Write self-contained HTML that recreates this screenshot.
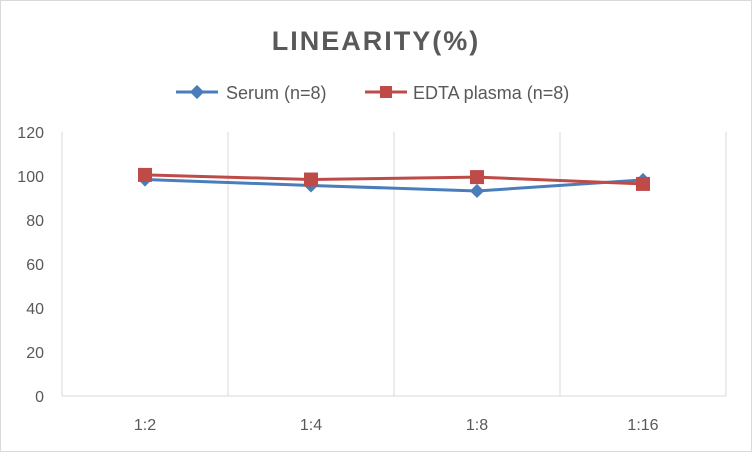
<!DOCTYPE html>
<html><head><meta charset="utf-8"><style>
body{margin:0;background:#fff;font-family:"Liberation Sans",sans-serif}
</style></head><body>
<svg width="752" height="452" xmlns="http://www.w3.org/2000/svg">
<rect x="0.5" y="0.5" width="751" height="451" fill="#fff" stroke="#d9d9d9"/>
<text x="376" y="50" text-anchor="middle" font-size="27" font-weight="bold" fill="#595959" letter-spacing="2">LINEARITY(%)</text>
<g>
<g>
<line x1="176" y1="92" x2="218" y2="92" stroke="#4a7ebb" stroke-width="3"/>
<rect x="192" y="87" width="10" height="10" fill="#4a7ebb" transform="rotate(45 197 92)"/>
<text x="226" y="99" font-size="18" fill="#595959">Serum (n=8)</text>
</g>
<g>
<line x1="365" y1="92" x2="407" y2="92" stroke="#be4b48" stroke-width="3"/>
<rect x="380" y="86" width="12" height="12" fill="#be4b48"/>
<text x="413" y="99" font-size="18" fill="#595959">EDTA plasma (n=8)</text>
</g>
</g>
<g id="grid"></g>
<g id="yt"></g>
<g id="xt"></g>
<g id="series"></g>
</svg>
<script>
const categories=["1:2","1:4","1:8","1:16"];
const serum=[98.4,95.7,93.2,98.2];
const edta=[100.5,98.4,99.5,96.4];
const yTicks=[0,20,40,60,80,100,120];
const NS="http://www.w3.org/2000/svg";
const x0=62,x1=726,y0=396,y1=132,yMax=120;
const bw=(x1-x0)/categories.length;
const X=i=>x0+bw*(i+0.5);
const Y=v=>y0-(v/yMax)*(y0-y1);
function mk(t,a,p){const e=document.createElementNS(NS,t);for(const k in a)e.setAttribute(k,a[k]);p.appendChild(e);return e;}
const grid=document.getElementById('grid'),yt=document.getElementById('yt'),xt=document.getElementById('xt'),ser=document.getElementById('series');
for(let i=0;i<=categories.length;i++){
 const l=mk('line',{x1:x0+bw*i,x2:x0+bw*i,y1:y1,y2:y0,stroke:'#d9d9d9'},grid);
 
 
}
const ax=mk('line',{x1:x0,x2:x1,y1:y0,y2:y0,stroke:'#d9d9d9'},grid);


yTicks.forEach(v=>{
 const t=mk('text',{x:44,y:Y(v)+6,'text-anchor':'end','font-size':'16',fill:'#595959'},yt);t.textContent=v;
 
 
});
categories.forEach((c,i)=>{
 const t=mk('text',{x:X(i),y:430,'text-anchor':'middle','font-size':'16',fill:'#595959'},xt);t.textContent=c;
 
 
});
function draw(vals,color,shape,name){
 const g=mk('g',{},ser);
 
 
 mk('polyline',{points:vals.map((v,i)=>X(i)+','+Y(v)).join(' '),fill:'none',stroke:color,'stroke-width':3},g);
 vals.forEach((v,i)=>{
  let m;
  if(shape==='d')m=mk('rect',{x:X(i)-5,y:Y(v)-5,width:10,height:10,fill:color,transform:`rotate(45 ${X(i)} ${Y(v)})`},g);
  else m=mk('rect',{x:X(i)-7,y:Y(v)-7,width:14,height:14,fill:color},g);
  
  
 });
}
draw(serum,'#4a7ebb','d','serum-series');
draw(edta,'#be4b48','s','edta-series');
</script>
</body></html>
